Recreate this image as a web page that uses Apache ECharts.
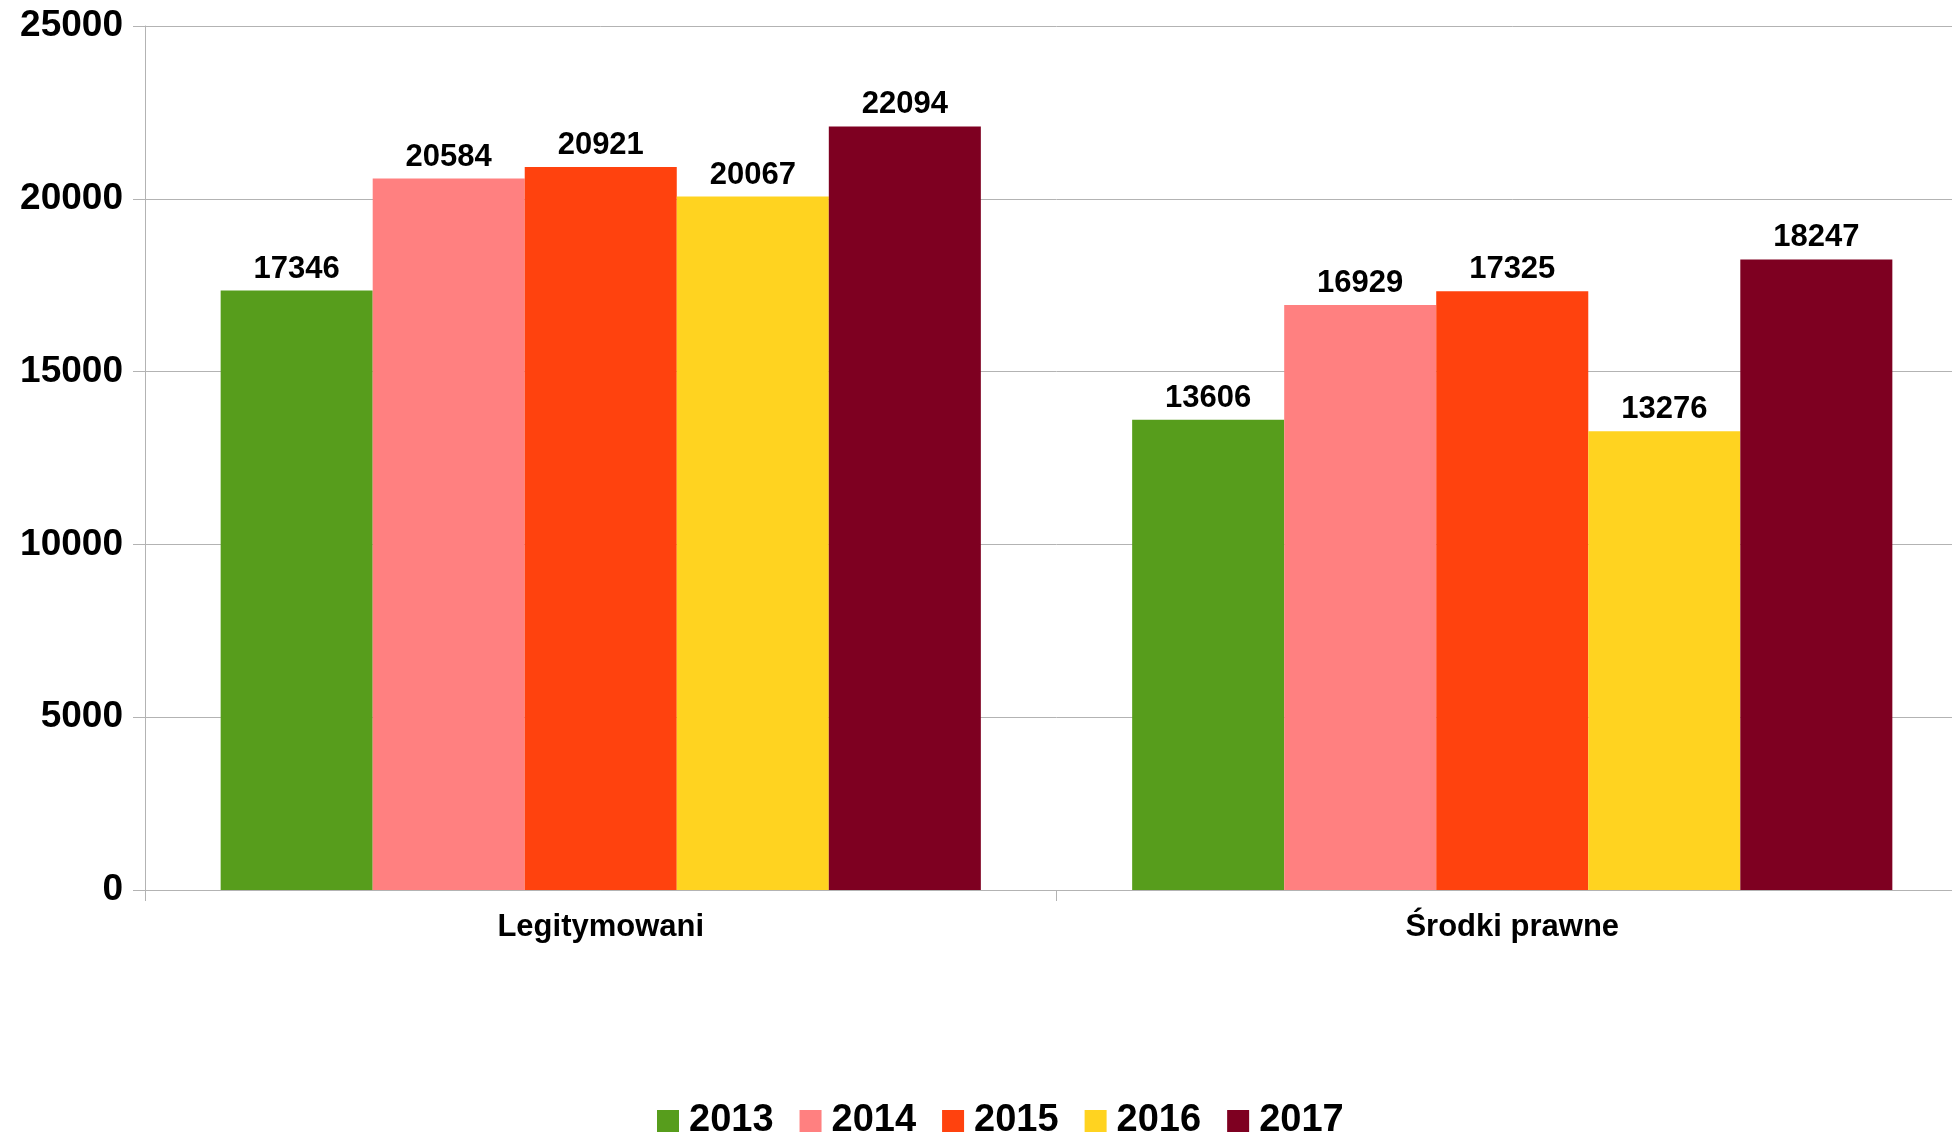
<!DOCTYPE html>
<html><head><meta charset="utf-8">
<script src="https://cdn.jsdelivr.net/npm/echarts@6/dist/echarts.min.js"></script>
<style>html,body{margin:0;padding:0;background:#fff;overflow:hidden}#c{width:1968px;height:1133px}</style>
</head><body><div id="c"></div>
<script>
const categories = ['Legitymowani', 'Środki prawne'];
const years = ['2013', '2014', '2015', '2016', '2017'];
const v2013 = [17346, 13606];
const v2014 = [20584, 16929];
const v2015 = [20921, 17325];
const v2016 = [20067, 13276];
const v2017 = [22094, 18247];
const yTicks = [0, 5000, 10000, 15000, 20000, 25000];
const colors = ['#579d1c', '#ff8080', '#ff420e', '#ffd320', '#7e0021'];
const seriesValues = [v2013, v2014, v2015, v2016, v2017];

const chart = echarts.init(document.getElementById('c'));
chart.setOption({
  animation: false,
  backgroundColor: '#ffffff',
  textStyle: { fontFamily: 'Liberation Sans' },
  grid: { left: 145, top: 26, bottom: 243, right: 0, containLabel: false },
  legend: {
    left: 652, top: 1097,
    itemWidth: 22, itemHeight: 22, itemGap: 26,
    icon: 'rect',
    textStyle: { fontFamily: 'Liberation Sans', fontWeight: 'bold', fontSize: 38, color: '#000', padding: [0, 0, 0, 5] },
    data: years
  },
  xAxis: {
    type: 'category',
    data: categories,
    axisLine: { lineStyle: { color: '#b3b3b3', width: 1 } },
    axisTick: { show: true, length: 11, lineStyle: { color: '#b3b3b3' } },
    axisLabel: { color: '#000', fontWeight: 'bold', fontSize: 31, margin: 22, fontFamily: 'Liberation Sans' }
  },
  yAxis: {
    type: 'value',
    min: yTicks[0], max: yTicks[yTicks.length - 1], interval: 5000,
    axisLine: { show: true, lineStyle: { color: '#b3b3b3', width: 1 } },
    axisTick: { show: true, length: 12, lineStyle: { color: '#b3b3b3' } },
    splitLine: { show: true, lineStyle: { color: '#b3b3b3', width: 1 } },
    axisLabel: { color: '#000', fontWeight: 'bold', fontSize: 37, margin: 22, fontFamily: 'Liberation Sans',
      formatter: v => String(v) }
  },
  series: years.map((y, i) => ({
    name: y,
    type: 'bar',
    data: seriesValues[i],
    barGap: '0%',
    barCategoryGap: '16.6%',
    itemStyle: { color: colors[i] },
    label: { show: true, position: 'top', distance: 6, color: '#000', fontWeight: 'bold', fontSize: 31, fontFamily: 'Liberation Sans' }
  }))
});
</script></body></html>
